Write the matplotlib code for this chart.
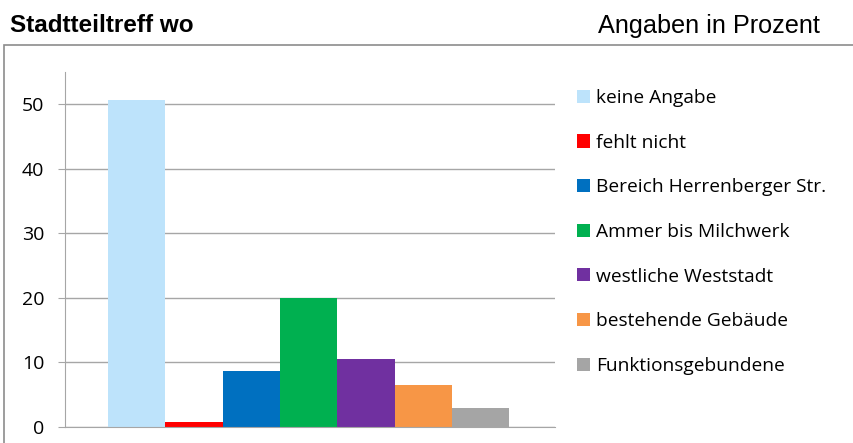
import matplotlib.pyplot as plt
from matplotlib.patches import Rectangle, Patch

# Daten
kategorien = ['keine Angabe', 'fehlt nicht', 'Bereich Herrenberger Str.',
              'Ammer bis Milchwerk', 'westliche Weststadt',
              'bestehende Gebäude', 'Funktionsgebundene']
werte = [50.7, 0.8, 8.7, 20.0, 10.6, 6.5, 2.9]
farben = ['#bde3fb', '#ff0000', '#0070c0', '#00b050', '#7030a0',
          '#f79646', '#a5a5a5']
y_ticks = [0, 10, 20, 30, 40, 50]

fig = plt.figure(figsize=(8.54, 4.43), dpi=100)
fig.patch.set_facecolor('white')

# Rahmen des Diagramms
fig.patches.append(Rectangle((4 / 854, -0.05), 1.0, 1 - 45 / 443 + 0.05,
                             transform=fig.transFigure, fill=False,
                             edgecolor='#8c8c8c', linewidth=1.2))

ax = fig.add_axes([65 / 854, 1 - 427 / 443, (555 - 65) / 854, (427 - 72) / 443])

x = list(range(len(werte)))
ax.bar(x, werte, width=1.0, color=farben, zorder=3)

ax.set_ylim(0, 55)
ax.set_xlim(-1.25, 7.3)
ax.set_yticks(y_ticks)
ax.set_xticks([])
ax.yaxis.grid(True, color='#a6a6a6', linewidth=1.0, zorder=0)
for s in ['top', 'right']:
    ax.spines[s].set_visible(False)
ax.spines['left'].set_color('#a6a6a6')
ax.spines['bottom'].set_color('#a6a6a6')
ax.spines['bottom'].set_zorder(4)
ax.tick_params(axis='y', length=5, color='#a6a6a6', labelsize=14, pad=10)
for t in ax.get_yticklabels():
    t.set_fontfamily('Open Sans')

# Titel
fig.text(10 / 854, 1 - 26 / 443, 'Stadtteiltreff wo', fontsize=17.5,
         fontweight='bold', family='Liberation Sans', va='center', ha='left')
fig.text(820 / 854, 1 - 26 / 443, 'Angaben in Prozent', fontsize=18.2,
         family='Liberation Sans', va='center', ha='right')

# Legende
handles = [Patch(facecolor=c, edgecolor='none') for c in farben]
fig.legend(handles, kategorien, loc='upper left',
           bbox_to_anchor=(577 / 854, 1 - 89 / 443), frameon=False,
           prop={'family': 'Open Sans', 'size': 13.8},
           handlelength=0.68, handleheight=0.68, handletextpad=0.31,
           labelspacing=1.39, borderaxespad=0, borderpad=0)

fig.savefig('out.png', dpi=100)
